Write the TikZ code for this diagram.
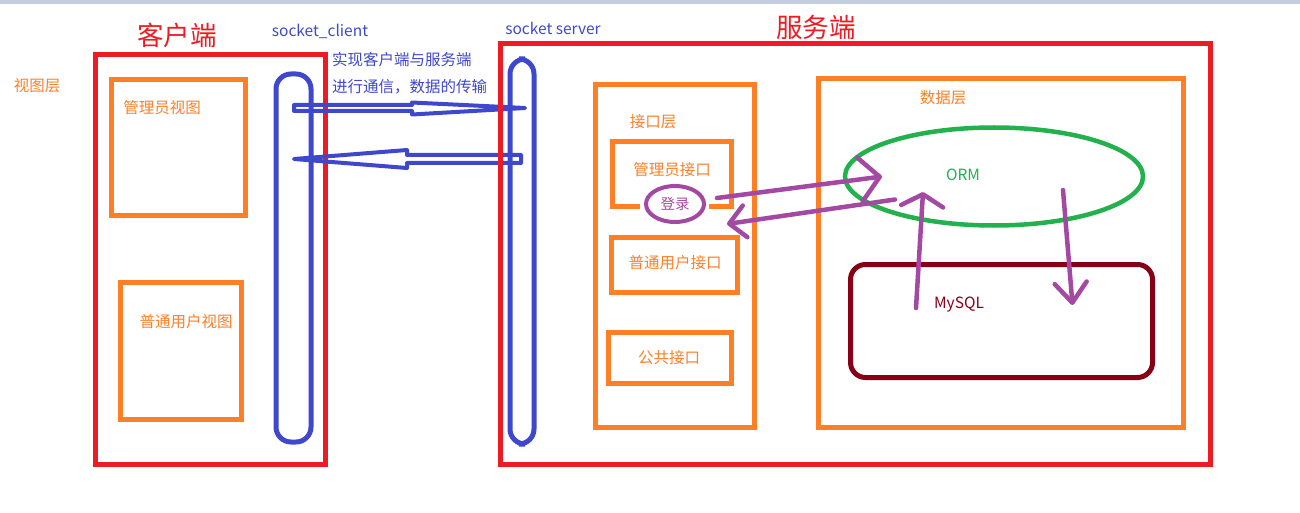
\documentclass[tikz,border=0pt]{standalone}
\usepackage{fontspec}
\setmainfont{Noto Sans CJK SC}
\usetikzlibrary{arrows.meta,shapes.geometric,calc}
\definecolor{pred}{HTML}{ED1C24}
\definecolor{porange}{HTML}{FF7F27}
\definecolor{pblue}{HTML}{3F48CC}
\definecolor{pgreen}{HTML}{22B14C}
\definecolor{ppurple}{HTML}{A349A4}
\definecolor{pmaroon}{HTML}{880015}
\definecolor{pbar}{HTML}{C5CEE0}
\tikzset{
  box/.style={rectangle, draw, line width=5pt, inner sep=0pt, outer sep=0pt, anchor=north west},
  rbox/.style={box, draw=pred},
  obox/.style={box, draw=porange},
  sock/.style={box, draw=pblue, rounded corners=15pt},
  oval/.style={ellipse, draw, line width=4.5pt, inner sep=0pt, outer sep=0pt},
  lbl/.style={font=\fontsize{15.5}{18}\selectfont, text=porange, inner sep=0pt},
  title/.style={font=\fontsize{26.5}{30}\selectfont, text=pred, inner sep=0pt},
  slbl/.style={font=\fontsize{15.5}{18}\selectfont, text=pblue, inner sep=0pt},
  pipe/.style={draw=pblue, line width=4pt, line join=round},
  arrow/.style={draw=ppurple, line width=4.5pt, line cap=round}
}

\begin{document}
\begin{tikzpicture}[x=1pt, y=-1pt]
  \useasboundingbox (0,0) rectangle (1300,513);
  \fill[pbar] (0,0) rectangle (1300,4);

  % client side
  \node[rbox, minimum width=230pt, minimum height=409pt] (client) at (95,55) {};
  \node[title] (clienttitle) at (177,35) {客户端};
  \node[slbl] (sockclbl) at (320,31) {socket\_client};
  \node[lbl] (viewlayer) at (37,86) {视图层};
  \node[obox, minimum width=134pt, minimum height=135pt] (adminview) at (111,80) {};
  \node[lbl] (adminviewlbl) at (162,108) {管理员视图};
  \node[obox, minimum width=121pt, minimum height=137pt] (userview) at (120,282) {};
  \node[lbl] (userviewlbl) at (186,322) {普通用户视图};
  \node[sock, minimum width=35pt, minimum height=368pt] (sockc) at (276,74) {};

  % transport
  \node[lbl, text=pblue, anchor=west] (note1) at (332,60) {实现客户端与服务端};
  \node[lbl, text=pblue, anchor=west] (note2) at (332,87) {进行通信，数据的传输};
  \coordinate (req) at (294,108);
  \coordinate (resp) at (294,159);
  \draw[pipe] (req) ++(0,-3) -- ++(118,0) -- ++(0,-2.5) -- ++(113,5.5)
    -- ++(-113,6.5) -- ++(0,-3.5) -- ++(-118,0) -- cycle;
  \draw[pipe] (resp) -- ++(113,-9) -- ++(0,5) -- ++(114,0) -- ++(0,8)
    -- ++(-114,0) -- ++(0,5) -- cycle;

  % server side
  \node[rbox, minimum width=710pt, minimum height=420pt] (server) at (500,44) {};
  \node[title] (servertitle) at (816,27) {服务端};
  \node[slbl] (sockslbl) at (553,28) {socket server};
  \node[sock, minimum width=24pt, minimum height=385pt] (socks) at (510,59) {};
  \node[obox, minimum width=159pt, minimum height=342pt] (apilayer) at (595,85) {};
  \node[lbl] (apilbl) at (653,122) {接口层};
  \node[obox, draw=none, minimum width=119pt, minimum height=64pt] (adminapi) at (612,142) {};
  \draw[porange, line width=5pt] ($(adminapi.south west)+(28,0)$) -| (adminapi.north west)
    -| (adminapi.south east) -- ++(-22,0);
  \node[lbl] (adminapilbl) at (672,170) {管理员接口};
  \node[oval, draw=ppurple, minimum width=58pt, minimum height=36pt, line width=4pt,
        font=\fontsize{14.5}{17}\selectfont, text=ppurple] (login) at (675,204) {登录};
  \node[obox, minimum width=126pt, minimum height=55pt] (userapi) at (611,237) {};
  \node[lbl] (userapilbl) at (675,263) {普通用户接口};
  \node[obox, minimum width=122.5pt, minimum height=51pt] (pubapi) at (608.5,332) {};
  \node[lbl] (pubapilbl) at (669,358) {公共接口};

  \node[obox, minimum width=365pt, minimum height=348pt] (datalayer) at (818.5,79) {};
  \node[lbl] (datalbl) at (943,98) {数据层};
  \node[oval, draw=pgreen, minimum width=298pt, minimum height=98pt] (orm) at (994,176.5) {};
  \node[lbl, text=pgreen] (ormlbl) at (963,175) {ORM};
  \node[box, draw=pmaroon, rounded corners=15pt, minimum width=302pt, minimum height=113pt] (mysql) at (850.5,264.5) {};
  \node[lbl, text=pmaroon] (mysqllbl) at (959,305) {MySQL};

  % calls
  \draw[arrow, -{Straight Barb[round, length=20pt, width=44pt]}]
    ([shift={(13pt,6pt)}]login.east) -- ($(orm.west)+(37,0)$);
  \draw[arrow, -{Straight Barb[round, length=16pt, width=32pt]}]
    ($(orm.west)+(50,23)$) -- ([shift={(23pt,-20pt)}]login.east);
  \draw[arrow, -{Straight Barb[round, length=12pt, width=42pt]}]
    ($(mysql.north west)+(65.5,43.5)$) -- ($(orm.south)+(-71,-33.5)$);
  \draw[arrow, -{Straight Barb[round, length=20pt, width=32pt]}]
    ($(orm.south)+(69,-35.5)$) -- ($(mysql.north west)+(222,40.5)$);
\end{tikzpicture}
\end{document}
